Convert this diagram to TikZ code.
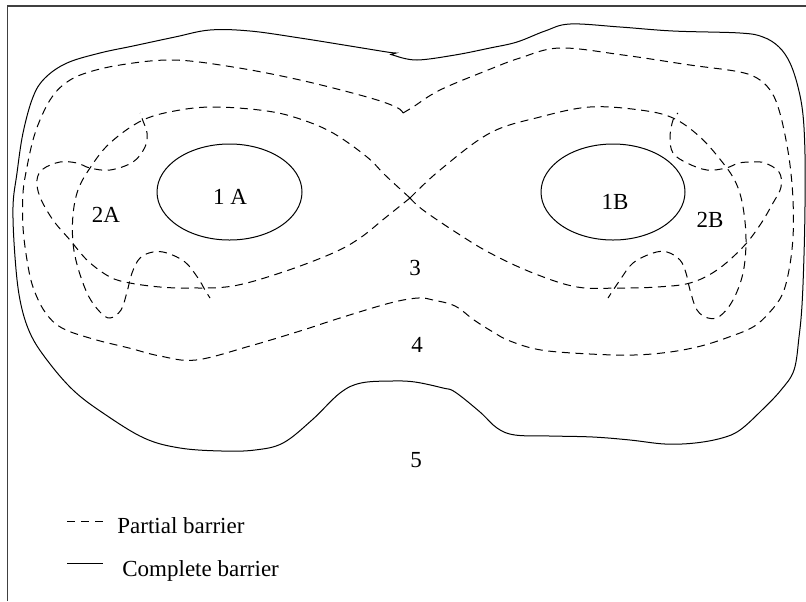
\documentclass[tikz,border=0pt]{standalone}
\usepackage{fontspec}
\setmainfont{Liberation Serif}
\usetikzlibrary{calc,positioning}

\begin{document}
\begin{tikzpicture}[x=0.5pt,y=-0.5pt,
  partial/.style={line width=0.5pt, dash pattern=on 4pt off 2.8pt},
  complete/.style={line width=0.5pt},
  zone/.style={font=\fontsize{11.5}{13}\selectfont, inner sep=0pt}]

\useasboundingbox (0,0) rectangle (806,601);
\draw[line width=0.7pt, black!75] (7.5,601) -- (7.5,6) -- (806,6);

% complete barrier
\draw[complete] plot[smooth, tension=0.6] coordinates {(396,56) (417,60) (455,55) (490,48) (517,42) (545,31) (570,24) (620,27) (673,31) (740,33) (763,37) (779,47) (790,63) (798,87) (803,115) (805,155) (805,205) (804,255) (802,305) (799,337) (794,370) (781,390) (762,410) (740,430) (722,438) (695,443) (665,444) (630,440) (593,437) (550,436) (515,435) (497,428) (480,412) (455,392) (443,388) (415,382) (392,381) (361,383) (340,393) (312,420) (283,443) (255,450) (222,451) (180,448) (144,438) (103,413) (73,390) (47,360) (30,333) (20,300) (15,257) (13,207) (17,173) (23,133) (33,97) (45,78) (67,63) (100,53) (133,46) (175,37) (210,30) (250,31) (300,38) (350,46) (387,52) (396,53)} -- (391,54.5) -- (396,56);
\draw[complete] (229.5,192) ellipse [x radius=72.5, y radius=48];
\draw[complete] (613,192) ellipse [x radius=72, y radius=48];

% partial barriers
\draw[partial] plot[smooth, tension=0.6] coordinates {(403,113) (413,107) (440,90) (488,70) (520,58) (560,48) (623,55) (690,65) (740,72) (760,80) (772,93) (779,110) (785,135) (790,165) (793,200) (793,237) (789,270) (782,295) (769,313) (753,327) (729,337) (701,346) (670,352) (634,355) (590,354) (541,350) (510,341) (493,332) (474,320) (455,306) (433,300) (418,298) (390,303) (340,318) (300,331) (250,346) (196,360) (160,356) (129,348) (93,339) (62,328) (45,312) (33,287) (27,260) (23,227) (23,193) (27,167) (33,140) (40,120) (50,100) (63,85) (83,74) (120,65) (173,60) (233,67) (300,80) (367,97) (396,107) (403,113)};
\draw[partial] plot[smooth, tension=0.6] coordinates {(410,198) (385,175) (367,157) (333,133) (300,119) (267,111) (217,107) (180,110) (143,120) (110,143) (90,168) (78,190) (73,215) (73,243) (78,268) (88,295) (100,312) (110,318) (121,310) (127,292) (132,273) (140,258) (153,252) (167,253) (185,262) (198,278) (205,290) (210,298)};
\draw[partial] plot[smooth, tension=0.6] coordinates {(410,198) (385,218) (360,238) (333,253) (283,272) (233,286) (190,288) (160,287) (130,283) (110,277) (88,261) (70,240) (53,220) (40,197) (37,180) (43,169) (60,162) (77,163) (90,168) (110,170) (133,162) (145,147) (147,133) (143,121) (140,113)};
\draw[partial] plot[smooth, tension=0.6] coordinates {(410,198) (440,170) (490,133) (540,117) (590,107) (640,110) (673,118) (700,137) (723,163) (736,183) (743,207) (746,240) (743,273) (733,300) (720,316) (708,318) (697,310) (690,290) (686,273) (680,260) (667,252) (653,253) (633,263) (620,280) (608,298)};
\draw[partial] plot[smooth, tension=0.6] coordinates {(410,198) (423,210) (457,233) (490,253) (533,273) (577,287) (620,288) (657,287) (690,283) (717,270) (743,247) (760,225) (773,203) (781,187) (779,172) (765,163) (753,162) (739,163) (726,168) (707,170) (687,163) (673,153) (670,137) (673,120) (678,113)};

% zones
\node[zone] (z1A) at (230,197) {1 A};
\node[zone] (z1B) at (615,202) {1B};
\node[zone] (z2A) at (106,215) {2A};
\node[zone] (z2B) at (710,220) {2B};
\node[zone] (z3) at (415,268) {3};
\node[zone] (z4) at (417,345) {4};
\node[zone] (z5) at (416,460) {5};

% legend
\coordinate (pa) at (67,521);
\coordinate (pb) at (103,521);
\draw[partial, dash pattern=on 4pt off 3pt] (pa) -- (pb);
\node[zone, anchor=base west] (tpart) at (117,533) {Partial barrier};
\coordinate (ca) at (67,563);
\coordinate (cb) at (103,563);
\draw[complete] (ca) -- (cb);
\node[zone, anchor=base west] (tcomp) at (122,576) {Complete barrier};

\end{tikzpicture}
\end{document}
